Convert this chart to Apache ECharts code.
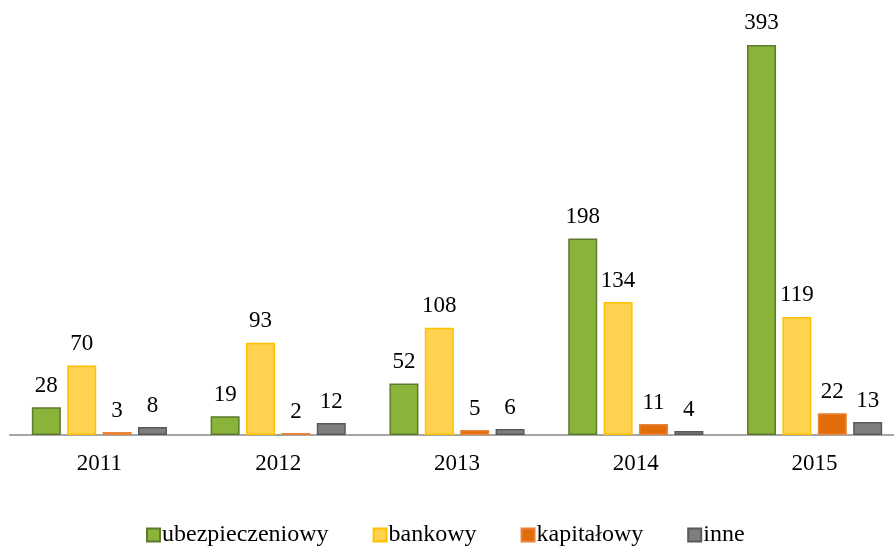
<!DOCTYPE html>
<html><head><meta charset="utf-8">
<script src="https://cdn.jsdelivr.net/npm/echarts@6/dist/echarts.min.js"></script>
<style>html,body{margin:0;padding:0;background:#fff}#c{width:894px;height:547px}</style>
</head><body><div id="c"></div>
<script>
var categories = ['2011','2012','2013','2014','2015'];
var seriesNames = ['ubezpieczeniowy','bankowy','kapitałowy','inne'];
var ubezpieczeniowy = [28,19,52,198,393];
var bankowy = [70,93,108,134,119];
var kapitalowy = [3,2,5,11,22];
var inne = [8,12,6,4,13];
var values = [ubezpieczeniowy, bankowy, kapitalowy, inne];
var fills = ['#8AB33A','#FFD24F','#E36C0A','#7F7F7F'];
var borders = ['#5E7A2E','#FFC000','#E8833A','#595959'];
var font = '"Liberation Serif","DejaVu Serif",serif';
var chart = echarts.init(document.getElementById('c'));
chart.setOption({
  animation:false,
  grid:{left:10,width:894,top:38,bottom:112,containLabel:false,outerBoundsMode:'none'},
  legend:{bottom:-5,left:141,icon:'rect',itemWidth:13,itemHeight:13,itemGap:44,
    textStyle:{fontFamily:font,fontSize:24,color:'#000',padding:[0,0,0,-3]},
    data:seriesNames},
  xAxis:{type:'category',data:categories,
    axisLine:{lineStyle:{color:'#A6A6A6',width:2}},axisTick:{show:false},
    axisLabel:{fontFamily:font,fontSize:23,color:'#000',margin:17}},
  yAxis:{type:'value',min:0,max:400,show:false,splitLine:{show:false}},
  series: seriesNames.map(function(n,i){return {
    name:n,type:'bar',data:values[i],barWidth:29,barGap:'22%',
    itemStyle:{color:fills[i],borderColor:borders[i],borderWidth:1.5},
    label:{show:true,position:'top',distance:10,fontFamily:font,fontSize:23,color:'#000'}
  };})
});
</script></body></html>
